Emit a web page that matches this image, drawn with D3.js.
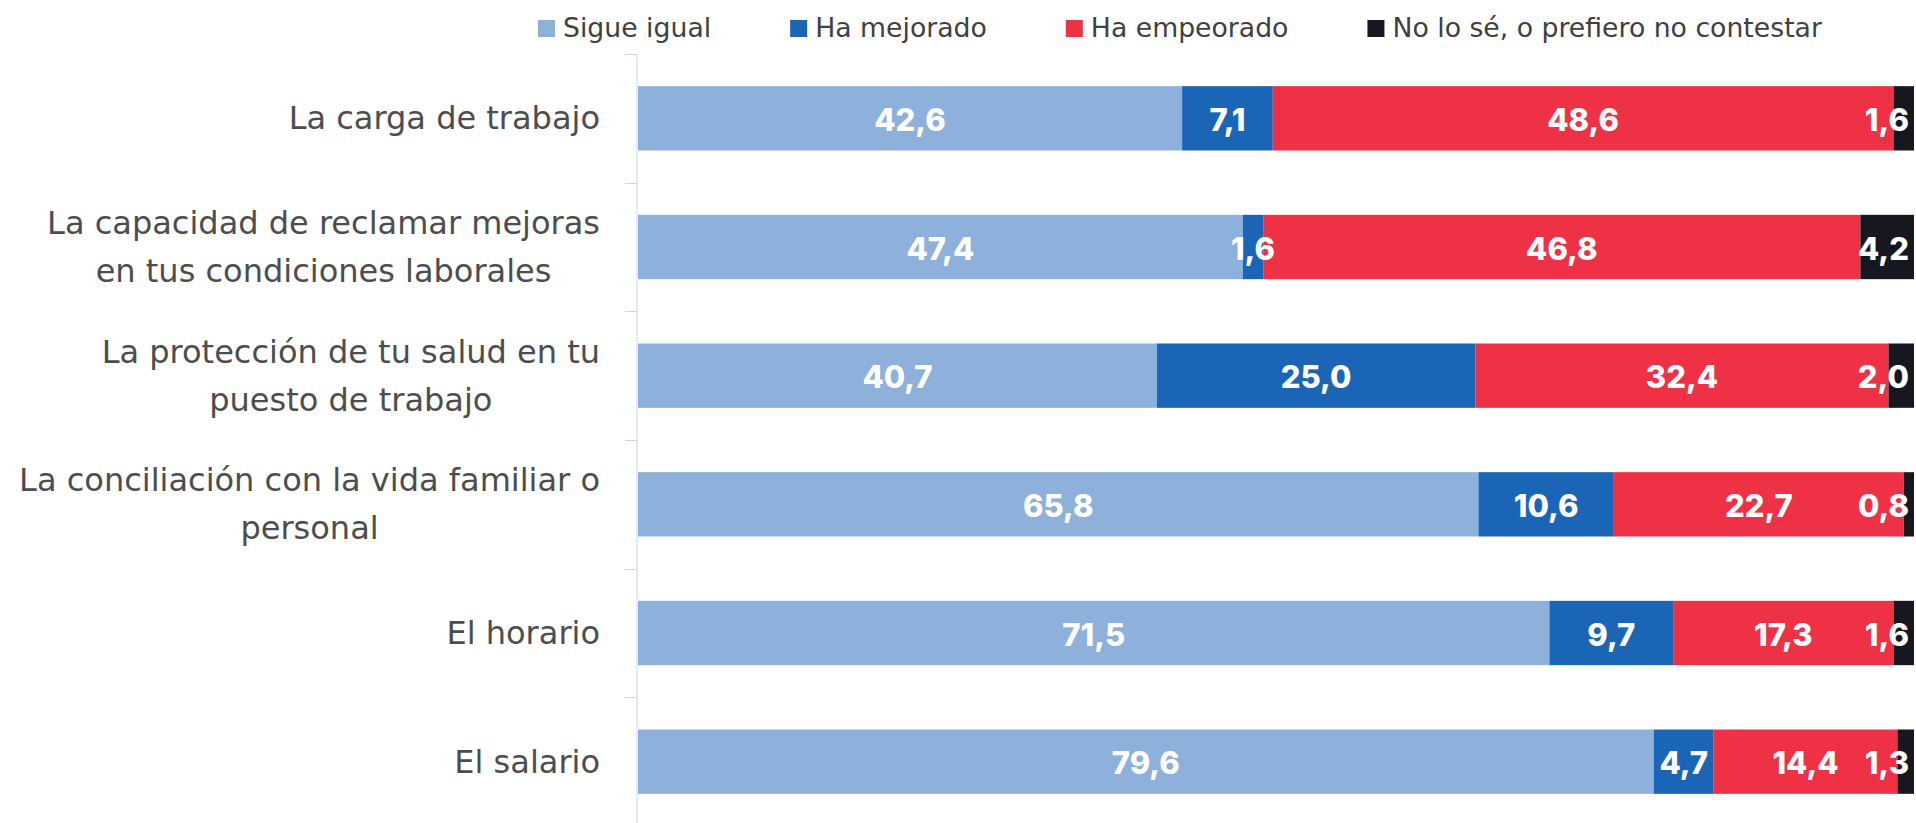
<!DOCTYPE html>
<html>
<head>
<meta charset="utf-8">
<script src="https://cdn.jsdelivr.net/npm/d3@7"></script>
<style>
  html, body { margin: 0; padding: 0; background: #ffffff; }
  svg { display: block; }
</style>
</head>
<body>
<svg id="chart" width="1916" height="823"></svg>
<script>
// ---- data ----
const categories = [
  "La carga de trabajo",
  "La capacidad de reclamar mejoras\nen tus condiciones laborales",
  "La protección de tu salud en tu\npuesto de trabajo",
  "La conciliación con la vida familiar o\npersonal",
  "El horario",
  "El salario"
];
const seriesNames = ["Sigue igual", "Ha mejorado", "Ha empeorado", "No lo sé, o prefiero no contestar"];
const sigueIgual  = [42.6, 47.4, 40.7, 65.8, 71.5, 79.6];
const haMejorado  = [7.1, 1.6, 25.0, 10.6, 9.7, 4.7];
const haEmpeorado = [48.6, 46.8, 32.4, 22.7, 17.3, 14.4];
const noLoSe      = [1.6, 4.2, 2.0, 0.8, 1.6, 1.3];
const seriesColors = ["#8DB1DB", "#1B65B7", "#EF3145", "#17181F"];

// ---- layout ----
const W = 1916, H = 823;
const plotLeft = 638, plotRight = 1914, plotTop = 54, plotBottom = 826;
const svg = d3.select("#chart");

const keys = ["s0", "s1", "s2", "s3"];
const seriesValues = [sigueIgual, haMejorado, haEmpeorado, noLoSe];
const rows = categories.map((c, i) => {
  const r = { cat: c };
  keys.forEach((k, j) => r[k] = seriesValues[j][i]);
  return r;
});

const stack = d3.stack().keys(keys).offset(d3.stackOffsetExpand);
const stacked = stack(rows);

const x = d3.scaleLinear().domain([0, 1]).range([plotLeft, plotRight]);
const y = d3.scaleBand().domain(categories).range([plotTop, plotBottom])
  .paddingInner(0.5).paddingOuter(0.25);

// ---- axis ----
const axisColor = "#CCD6EB";
const yAxis = d3.axisLeft(y).tickSize(0).tickFormat("");
const axisG = svg.append("g").attr("transform", `translate(${plotLeft - 1.5},0)`).call(yAxis);
axisG.select(".domain").attr("stroke", axisColor).attr("stroke-width", 1)
  .attr("d", `M0.5,${plotTop}V${plotBottom}`);
// category boundary ticks
const step = y.step();
const boundaries = d3.range(categories.length + 1).map(i => plotTop + i * step);
axisG.selectAll(".bound").data(boundaries).join("line")
  .attr("class", "bound")
  .attr("x1", -11.5).attr("x2", 0.5)
  .attr("y1", d => Math.round(d) + 0.5).attr("y2", d => Math.round(d) + 0.5)
  .attr("stroke", axisColor).attr("stroke-width", 1);

// ---- bars ----
const layers = svg.append("g").selectAll("g").data(stacked).join("g")
  .attr("fill", (d, i) => seriesColors[i]);
layers.selectAll("rect").data(d => d.map(p => ({ p, cat: p.data.cat }))).join("rect")
  .attr("x", d => x(d.p[0]))
  .attr("width", d => x(d.p[1]) - x(d.p[0]))
  .attr("y", d => y(d.cat))
  .attr("height", y.bandwidth());

// ---- data labels ----
const fmt = v => d3.format(".1f")(v).replace(".", ",");
const labelG = svg.append("g");
stacked.forEach((layer, si) => {
  layer.forEach((p, ci) => {
    const v = seriesValues[si][ci];
    const cx = (x(p[0]) + x(p[1])) / 2;
    const t = labelG.append("text")
      .attr("x", cx)
      .attr("y", y(p.data.cat) + y.bandwidth() / 2 + 12.5)
      .attr("text-anchor", "middle")
      .attr("fill", "#ffffff")
      .style("font-family", "Inter, 'Open Sans', sans-serif")
      .style("font-weight", 800)
      .style("font-size", "31px")
      .text(fmt(v));
    const w = t.node().getComputedTextLength();
    const maxRight = plotRight - 5;
    if (cx + w / 2 > maxRight) t.attr("x", maxRight - w / 2);
  });
});

// ---- category labels ----
const catG = svg.append("g")
  .style("font-family", "'DejaVu Sans', sans-serif")
  .style("font-size", "32px")
  .attr("fill", "#4D4D4F");
const labelRight = 600, lineH = 48;
categories.forEach(c => {
  const lines = c.split("\n");
  const cy = y(c) + y.bandwidth() / 2;
  const g = catG.append("g");
  const texts = lines.map((ln, i) => g.append("text")
    .attr("y", cy + (i - (lines.length - 1) / 2) * lineH + 11)
    .attr("text-anchor", "middle")
    .text(ln));
  const maxW = d3.max(texts, t => t.node().getComputedTextLength());
  texts.forEach(t => t.attr("x", labelRight - maxW / 2));
});

// ---- legend ----
const legG = svg.append("g")
  .style("font-family", "'DejaVu Sans', sans-serif")
  .style("font-size", "26.7px");
let lx = 538;
seriesNames.forEach((name, i) => {
  legG.append("rect").attr("x", lx).attr("y", 20).attr("width", 17).attr("height", 17)
    .attr("fill", seriesColors[i]);
  const t = legG.append("text").attr("x", lx + 25).attr("y", 36.5)
    .attr("fill", "#404040").text(name);
  lx += 25 + t.node().getComputedTextLength() + 79;
});
</script>
</body>
</html>
